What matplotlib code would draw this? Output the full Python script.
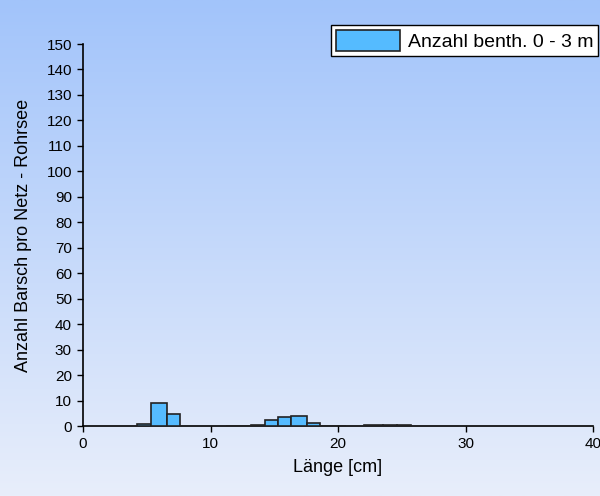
import numpy as np
import matplotlib
matplotlib.use("Agg")
import matplotlib.pyplot as plt
from matplotlib.colors import LinearSegmentedColormap

plt.rcParams['font.family'] = ['Liberation Sans', 'DejaVu Sans']

# Histogram bins (cm) and counts per net
bin_left = [4.26, 5.30, 6.56, 11.2, 13.2, 14.27, 15.27, 16.28, 17.59, 18.61, 19.6, 22.0, 23.5, 24.6]
bin_right = [5.30, 6.56, 7.61, 13.2, 14.27, 15.27, 16.28, 17.59, 18.61, 19.6, 20.6, 23.5, 24.6, 25.7]
counts = [0.6, 9.0, 4.6, 0.1, 0.3, 2.4, 3.6, 3.8, 1.3, 0.1, 0.1, 0.2, 0.4, 0.3]

series_label = "Anzahl benth. 0 - 3 m"
x_label = "Länge [cm]"
y_label = "Anzahl Barsch pro Netz - Rohrsee"
x_ticks = [0, 10, 20, 30, 40]
y_ticks = list(range(0, 151, 10))

fig = plt.figure(figsize=(6, 4.96), dpi=100)

# background gradient
bg = fig.add_axes([0, 0, 1, 1], zorder=-10)
cmap = LinearSegmentedColormap.from_list("bg", ["#a2c4fa", "#e8eefb"])
grad = np.linspace(0, 1, 256).reshape(-1, 1)
bg.imshow(grad, aspect='auto', cmap=cmap, extent=[0, 1, 0, 1], origin='upper')
bg.axis('off')

ax = fig.add_axes([83/600, 1-426/496, (593-83)/600, (426-44)/496])
ax.patch.set_alpha(0)

widths = [r - l for l, r in zip(bin_left, bin_right)]
ax.bar(bin_left, counts, width=widths, align='edge', color='#55bbff',
       edgecolor='#222222', linewidth=1.2, label=series_label, zorder=3)

ax.set_xlim(0, 40)
ax.set_ylim(0, 150)
ax.set_xticks(x_ticks)
ax.set_yticks(y_ticks)
ax.tick_params(axis='both', direction='out', length=4, width=1, labelsize=11, colors='black', pad=4)
for s in ['top', 'right']:
    ax.spines[s].set_visible(False)
for s in ['left', 'bottom']:
    ax.spines[s].set_linewidth(1.2)
ax.set_xlabel(x_label, fontsize=13, labelpad=6)
ax.set_ylabel(y_label, fontsize=13, labelpad=10)

leg = ax.legend(loc='upper right', bbox_to_anchor=(598/600, 1-25/496), bbox_transform=fig.transFigure,
                fontsize=14, frameon=True, fancybox=False, edgecolor='black',
                framealpha=1, borderpad=0.25, handlelength=3.3, handleheight=1.3,
                handletextpad=0.4, borderaxespad=0)
leg.get_frame().set_linewidth(1.0)

fig.savefig("out.png", dpi=100)
